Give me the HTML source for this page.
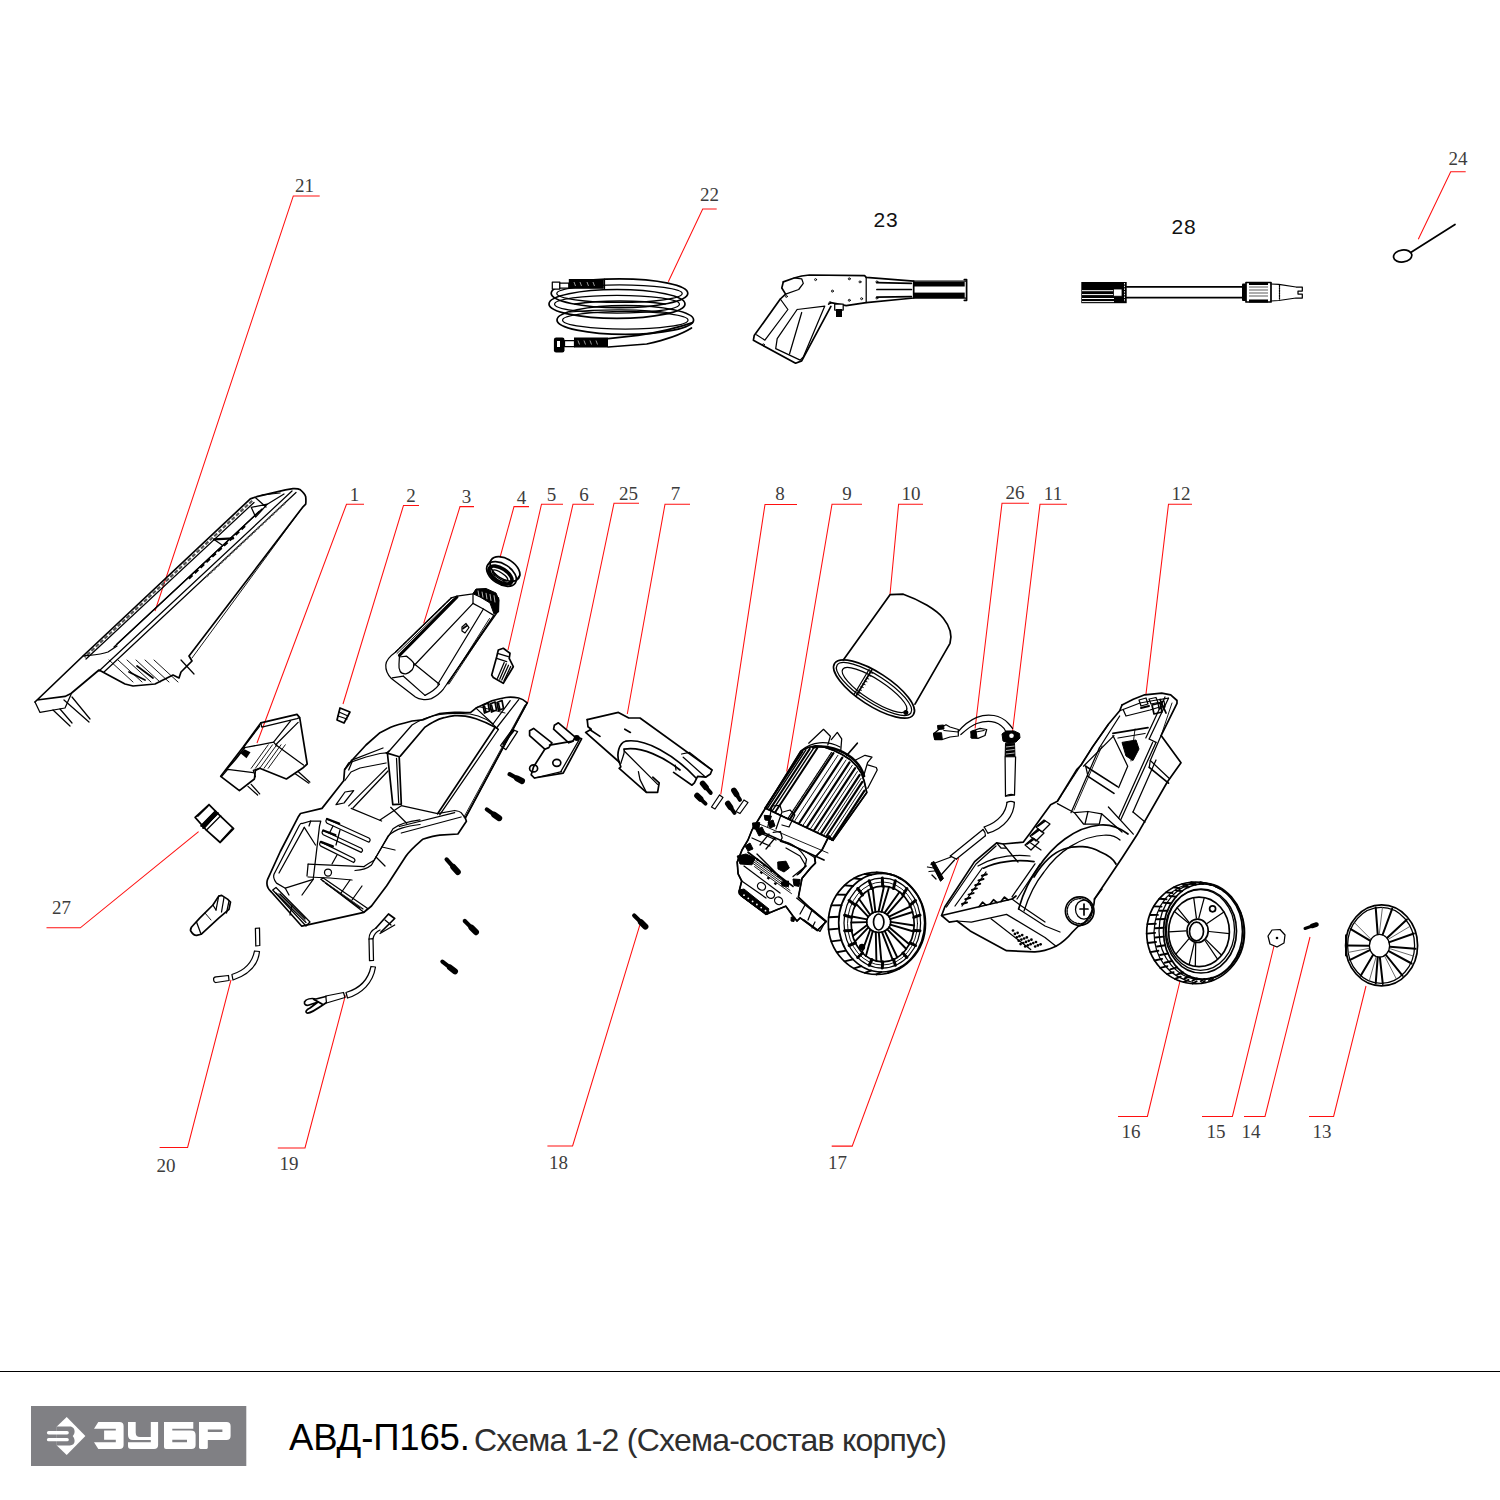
<!DOCTYPE html>
<html><head><meta charset="utf-8"><title>АВД-П165 Схема 1-2</title>
<style>
html,body{margin:0;padding:0;background:#fff;}
body{width:1500px;height:1500px;position:relative;overflow:hidden;font-family:"Liberation Sans",sans-serif;}
svg{position:absolute;left:0;top:0;}
.k{fill:none;stroke:#000;stroke-width:1.25;stroke-linejoin:round;stroke-linecap:round;}
.k2{fill:none;stroke:#000;stroke-width:1.7;stroke-linejoin:round;stroke-linecap:round;}
.t{fill:none;stroke:#000;stroke-width:0.9;stroke-linejoin:round;stroke-linecap:round;}
.w{fill:#fff;stroke:#000;stroke-width:1.25;stroke-linejoin:round;}
.f{fill:#000;stroke:none;}
.fk{fill:#000;stroke:#000;stroke-width:1;stroke-linejoin:round;}
.sc{stroke:#000;stroke-linecap:round;fill:none;}
.r{fill:none;stroke:#ff1010;stroke-width:1.05;}
.lb{font-family:"Liberation Serif",serif;font-size:19px;fill:#3c3c3c;text-anchor:middle;}
.lbs{font-family:"Liberation Sans",sans-serif;font-size:17px;fill:#1a1a1a;text-anchor:middle;}
.big{font-family:"Liberation Sans",sans-serif;font-size:21px;fill:#111;text-anchor:middle;letter-spacing:0.8px;}
#foot{position:absolute;left:0;top:1370.5px;width:1500px;height:1.4px;background:#000;}
.tt{position:absolute;white-space:nowrap;line-height:40px;top:1418px;}
#t1{left:289px;font-size:36.5px;letter-spacing:-0.15px;color:#000;}
#t2{left:474px;font-size:32px;color:#2e2e2e;letter-spacing:-0.76px;top:1420px;}
</style></head><body>
<svg width="1500" height="1500" viewBox="0 0 1500 1500">
<text class="lb" x="354.5" y="500.5">1</text>
<path class="r" d="M364 504.2 L346.5 504.2 L257 743"/>
<text class="lb" x="411" y="501.8">2</text>
<path class="r" d="M419 505.4 L403.5 505.4 L343 704"/>
<text class="lb" x="466.5" y="503.3">3</text>
<path class="r" d="M474 506.6 L460 506.6 L423.7 623.3"/>
<text class="lb" x="521.5" y="503.6">4</text>
<path class="r" d="M529 506.6 L514 506.6 L500 557.5"/>
<text class="lb" x="551.5" y="500.7">5</text>
<path class="r" d="M563 504.2 L541.5 504.2 L508 650"/>
<text class="lb" x="584" y="500.7">6</text>
<path class="r" d="M594 504.2 L573 504.2 L527.5 703.3"/>
<text class="lb" x="628.5" y="500">25</text>
<path class="r" d="M639 503.2 L614 503.2 L566.5 729.5"/>
<text class="lb" x="675.5" y="500">7</text>
<path class="r" d="M690 504.2 L665 504.2 L627.3 714"/>
<text class="lb" x="780" y="500">8</text>
<path class="r" d="M797 504.4 L765 504.4 L720.8 794.5"/>
<text class="lb" x="847" y="500">9</text>
<path class="r" d="M862 504.2 L832 504.2 L786.7 771.7"/>
<text class="lb" x="911" y="500">10</text>
<path class="r" d="M923 504.2 L898.6 504.2 L890 594.5"/>
<text class="lb" x="1015" y="499.4">26</text>
<path class="r" d="M1029 503.2 L1002 503.2 L975.1 728.5"/>
<text class="lb" x="1053" y="500">11</text>
<path class="r" d="M1067 504.2 L1040 504.2 L1012.4 732.3"/>
<text class="lb" x="1181" y="500">12</text>
<path class="r" d="M1192 504.2 L1168.5 504.2 L1145.9 694.9"/>
<text class="lb" x="304.5" y="191.8">21</text>
<path class="r" d="M319.7 195.9 L293.3 195.9 L155 611"/>
<text class="lb" x="709.5" y="200.6">22</text>
<path class="r" d="M716.7 209 L702.7 209 L668.3 281.7"/>
<text class="lb" x="1458" y="164.6">24</text>
<path class="r" d="M1465.7 171.7 L1450.7 171.7 L1418.3 239.3"/>
<text class="lb" x="61.5" y="913.5">27</text>
<path class="r" d="M46.5 927.8 L80.3 927.8 L198.6 831.6"/>
<text class="lb" x="166" y="1172">20</text>
<path class="r" d="M159.6 1147.4 L187.6 1147.4 L231 979.8"/>
<text class="lb" x="289" y="1169.5">19</text>
<path class="r" d="M277.8 1148 L305 1148 L345.4 995.4"/>
<text class="lb" x="558.6" y="1168.5">18</text>
<path class="r" d="M547.4 1145.9 L572.6 1145.9 L639.8 925.2"/>
<text class="lb" x="837.4" y="1168.8">17</text>
<path class="r" d="M831.7 1146.1 L852.2 1146.1 L958.7 858.1"/>
<text class="lb" x="1131" y="1137.6">16</text>
<path class="r" d="M1118 1116.4 L1147.4 1116.4 L1180 981"/>
<text class="lb" x="1216" y="1137.6">15</text>
<path class="r" d="M1202 1116.4 L1232.4 1116.4 L1274 946"/>
<text class="lb" x="1251" y="1137.6">14</text>
<path class="r" d="M1244 1116.4 L1265 1116.4 L1310 937"/>
<text class="lb" x="1322" y="1137.6">13</text>
<path class="r" d="M1309 1116.4 L1333.6 1116.4 L1366 986"/>
<text class="big" x="886" y="226.6">23</text>
<text class="big" x="1184" y="234.3">28</text>
<rect x="31" y="1406" width="215.3" height="60" fill="#808084"/>
<g fill="#fff">
<path class="x" d="M66.7 1417 L85.4 1436 L66.7 1455 L56.8 1445.4 L56.8 1426.6 Z" fill="#fff"/>
<path class="x" d="M56.8 1426.6 L69.8 1426.6 C73 1426.6 74.6 1429 74.6 1431.5 C74.6 1433.6 73.6 1435 72.7 1436.1 C73.6 1437.3 74.6 1438.8 74.6 1441 C74.6 1443.5 73 1445.4 69.8 1445.4 L56.8 1445.4 Z" fill="#808084"/>
<rect x="46.9" y="1430.9" width="21.9" height="3.5" rx="1.75"/>
<rect x="46.9" y="1438" width="21.9" height="3.3" rx="1.65"/>
<path class="x" d="M98.3 1422 L119.5 1422 Q123.6 1422 123.6 1426 L123.6 1444.9 Q123.6 1448.9 119.5 1448.9 L98.3 1448.9 L94 1442.3 L115.8 1442.3 L115.8 1439.8 L104.1 1439.8 L104.1 1430.6 L115.8 1430.6 L115.8 1428.7 L94 1428.7 Z" fill="#fff"/>
<path class="x" d="M128 1422 L135.7 1422 L135.7 1432.5 Q135.7 1437 140 1437 L150.8 1437 L150.8 1422 L158.1 1422 L158.1 1444.9 Q158.1 1448.9 154 1448.9 L131 1448.9 Q128 1448.9 128 1446 L128 1442.3 L150.8 1442.3 L150.8 1440 L133 1440 Q128 1440 128 1435 Z" fill="#fff"/>
<path class="x" d="M164 1422 L193.3 1422 L193.3 1428.7 L172.3 1428.7 L172.3 1430.6 L191 1430.6 Q195.6 1430.6 195.6 1435 L195.6 1444.9 Q195.6 1448.9 191.5 1448.9 L166 1448.9 Q164 1448.9 164 1447 Z M172.3 1439.8 L172.3 1442.3 L187 1442.3 L187 1439.8 Z" fill="#fff" fill-rule="evenodd"/>
<path class="x" d="M199 1422 L226.5 1422 Q230.6 1422 230.6 1426 L230.6 1436 Q230.6 1440 226.5 1440 L207.8 1440 L207.8 1447.5 Q207.8 1448.9 206.5 1448.9 L200.5 1448.9 Q199 1448.9 199 1447.5 Z M207.8 1429.6 L207.8 1432 L222.4 1432 L222.4 1429.6 Z" fill="#fff" fill-rule="evenodd"/>
</g>
<path class="k2" d="M35 702 L83 656 L250.3 498.9 L256.7 496.7 L285.5 489.8 L293 488.7 C297 488.5 299 489 300.4 489.8 C303 492 305 494 305.7 496.7 C306 500 306 502 305.7 504.2 L302.5 507.4 L189 656 L192 661 L181 672 L179 678 L173 675 L155 684 L133 686 L125 684 L99 670 L71 693.5 L65 696.4 L37 700 Z"/>
<path class="k" d="M35 702 L40 712.4 L65 708 L71 694.4"/>
<path class="k" d="M53 710 L70 726"/>
<path class="k" d="M60 709 L72 723"/>
<path class="k" d="M64 700 L89 722"/>
<path class="k" d="M72 697 L90 719"/>
<line class="k" x1="254" y1="502.5" x2="86" y2="659"/>
<line class="x" x1="252.2" y1="500.7" x2="84.5" y2="657.3" stroke="#555" stroke-width="2.2" stroke-dasharray="4 2"/>
<line class="k" x1="262" y1="509" x2="117" y2="644"/>
<line class="k" x1="259" y1="511.5" x2="114" y2="647"/>
<line class="x" x1="245" y1="526" x2="187.3" y2="580" stroke="#000" stroke-width="2.2" stroke-dasharray="5 3"/>
<line class="k" x1="292" y1="491" x2="99" y2="671"/>
<line class="k" x1="296" y1="492.5" x2="104" y2="672"/>
<line class="x" x1="285" y1="503" x2="205" y2="578" stroke="#555" stroke-width="1.8" stroke-dasharray="3 2"/>
<path class="k" d="M83 656 C92 655 100 655 108 652 L117 646"/>
<line class="sc" x1="214" y1="539.4" x2="233.2" y2="538.3" stroke-width="2.2"/>
<line class="k" x1="214" y1="539.4" x2="222" y2="545"/>
<path class="k" d="M251.3 507.4 L267.3 504.2 L255.6 517 L251.3 507.4"/>
<line class="k" x1="255.6" y1="497.8" x2="266" y2="507"/>
<line class="k" x1="262" y1="495" x2="280" y2="493"/>
<line class="k" x1="267.3" y1="504.2" x2="284" y2="494"/>
<line class="t" x1="302.5" y1="507.4" x2="192" y2="658"/>
<path class="t" d="M109 660 L133 682"/>
<path class="t" d="M118 660 L142 682"/>
<path class="t" d="M127 660 L151 682"/>
<path class="t" d="M136 660 L160 682"/>
<path class="t" d="M145 660 L169 682"/>
<path class="t" d="M154 660 L178 682"/>
<path class="k2" d="M129 672 L145 680"/>
<path class="k2" d="M137 666 L153 678"/>
<path class="k" d="M181 660 L194 674"/>
<ellipse class="k2" cx="619.5" cy="293.3" rx="68.3" ry="14.4" transform="rotate(0 619.5 293.3)"/>
<ellipse class="k" cx="619.5" cy="293.6" rx="62.7" ry="8.8" transform="rotate(0 619.5 293.6)"/>
<ellipse class="k2" cx="617" cy="303.9" rx="68" ry="14.4" transform="rotate(0 617 303.9)"/>
<ellipse class="k" cx="617" cy="304.2" rx="62.4" ry="8.8" transform="rotate(0 617 304.2)"/>
<ellipse class="k2" cx="625.3" cy="319.9" rx="68.3" ry="14.4" transform="rotate(0 625.3 319.9)"/>
<ellipse class="k" cx="625.3" cy="320.2" rx="62.7" ry="8.8" transform="rotate(0 625.3 320.2)"/>
<path class="k2" d="M575 304 C600 300 640 300 665 304"/>
<path class="k" d="M570 312 C600 309 645 309 670 313"/>
<rect x="552.3" y="282" width="7.5" height="7" class="w"/>
<rect x="559.8" y="283" width="9" height="5" class="w"/>
<rect x="568.8" y="279" width="35" height="9.8" class="f"/>
<line class="x" x1="574" y1="282" x2="575.5" y2="286" stroke="#fff" stroke-width="0.6"/>
<line class="x" x1="580" y1="282" x2="581.5" y2="286" stroke="#fff" stroke-width="0.6"/>
<line class="x" x1="587" y1="282" x2="588.5" y2="286" stroke="#fff" stroke-width="0.6"/>
<line class="x" x1="593" y1="282" x2="594.5" y2="286" stroke="#fff" stroke-width="0.6"/>
<line class="k" x1="604.5" y1="279" x2="604.5" y2="288.8"/>
<rect x="553.9" y="337.5" width="10.6" height="15" rx="2.2" class="f"/>
<rect x="557" y="341" width="3" height="6" fill="#fff"/>
<rect x="564.5" y="340.5" width="10" height="6" class="w"/>
<rect x="574" y="337.5" width="34" height="10" class="f"/>
<line class="x" x1="578" y1="340.5" x2="579.5" y2="344.5" stroke="#fff" stroke-width="0.6"/>
<line class="x" x1="584" y1="340.5" x2="585.5" y2="344.5" stroke="#fff" stroke-width="0.6"/>
<line class="x" x1="590" y1="340.5" x2="591.5" y2="344.5" stroke="#fff" stroke-width="0.6"/>
<line class="x" x1="596" y1="340.5" x2="597.5" y2="344.5" stroke="#fff" stroke-width="0.6"/>
<path class="k2" d="M608.3 338.6 L638 335.4 C660 332 680 327 692.5 322.6"/>
<path class="k2" d="M608.3 347 L646.7 344 C665 340 682 334 691.5 328"/>
<path class="k2" d="M783.3 281.9 L794.1 278 L801.7 276 L809.4 275 L864.6 275.7 L866.2 277.3 L913.7 281.1 L913.7 298 L866.2 302.6 L846.2 305.6 L830.9 302.6 L828.6 304.1"/>
<path class="k" d="M866.2 277.3 L866.2 302.6"/>
<path class="k2" d="M783.3 281.9 L781.8 288 L785.6 294.1 L780.3 299 L754.2 335.6 L753.4 340.2 L758.8 343.2 L795.6 363.2 L801.7 360.9 L830.9 306.4"/>
<path class="k" d="M785.6 294.1 L798.7 289.5 L803.3 283.4 L801.7 278.8 L794.1 278"/>
<path class="k" d="M780.3 299 L787.9 309.5 L764.9 340.2 L756.5 334.8"/>
<path class="k" d="M797.1 309.5 L824.8 306.1 L803.3 357 L800.2 360.1 L775.7 348.6 L777.2 338.6 L797.1 309.5"/>
<path class="k" d="M801.7 312.5 L789.5 354"/>
<path class="k" d="M913.7 281.1 L965.9 281.1"/>
<path class="k" d="M913.7 298 L965.9 298"/>
<rect x="913.7" y="281.9" width="51" height="4.6" class="f"/>
<rect x="913.7" y="292.6" width="51" height="5.4" class="f"/>
<path class="k2" d="M964.3 279.6 L966.6 279.6 L966.6 300.3 L964.3 300.3"/>
<path class="k2" d="M876.9 282.6 L911.4 283.4"/>
<path class="k2" d="M876.9 289.5 L911.4 289.5"/>
<path class="k2" d="M876.9 297.2 L911.4 296.7"/>
<circle cx="815.6" cy="279.6" r="1" class="t"/>
<circle cx="849.3" cy="278.8" r="1" class="t"/>
<circle cx="860.0" cy="281.9" r="1" class="t"/>
<circle cx="832.4" cy="291.1" r="1" class="t"/>
<circle cx="849.3" cy="300.3" r="1" class="t"/>
<circle cx="861.6" cy="298.7" r="1" class="t"/>
<circle cx="786.4" cy="296.4" r="1" class="t"/>
<circle cx="763.4" cy="344.8" r="1" class="t"/>
<circle cx="830.1" cy="302.6" r="1" class="t"/>
<circle cx="876.9" cy="281.9" r="1" class="t"/>
<circle cx="876.9" cy="298.0" r="1" class="t"/>
<rect x="834.7" y="304" width="8.5" height="6" class="w"/>
<rect x="836" y="309" width="6" height="8" class="f"/>
<rect x="1081.3" y="282" width="45.4" height="21.2" class="f"/>
<line class="x" x1="1082" y1="290.7" x2="1114" y2="290.7" stroke="#fff" stroke-width="1"/>
<line class="x" x1="1082" y1="294.6" x2="1114" y2="294.6" stroke="#fff" stroke-width="1"/>
<line class="x" x1="1082" y1="298.5" x2="1114" y2="298.5" stroke="#fff" stroke-width="1"/>
<line class="x" x1="1082" y1="301.6" x2="1114" y2="301.6" stroke="#fff" stroke-width="1"/>
<rect x="1113.4" y="289" width="8.6" height="7.2" fill="#fff" stroke="#000" stroke-width="0.8"/>
<line class="x" x1="1124.5" y1="283" x2="1124.5" y2="302" stroke="#fff" stroke-width="0.9" stroke-dasharray="1.5 1.2"/>
<line class="k2" x1="1126.7" y1="286.8" x2="1242" y2="286.8"/>
<line class="k2" x1="1126.7" y1="297.7" x2="1242" y2="297.7"/>
<rect x="1242" y="283.6" width="4" height="17.3" rx="1" class="f"/>
<path class="k2" d="M1246 282.5 L1271 282.5 L1271 302 L1246 302 Z" fill="#fff"/>
<rect x="1249" y="282" width="19" height="3" class="f"/>
<rect x="1249" y="299.5" width="19" height="3" class="f"/>
<line class="x" x1="1249" y1="287" x2="1268" y2="287" stroke="#777" stroke-width="1.2"/>
<line class="x" x1="1249" y1="290" x2="1268" y2="290" stroke="#777" stroke-width="1.2"/>
<line class="x" x1="1249" y1="293" x2="1268" y2="293" stroke="#777" stroke-width="1.2"/>
<line class="x" x1="1249" y1="296" x2="1268" y2="296" stroke="#777" stroke-width="1.2"/>
<path class="k" d="M1271 284 L1278.8 284.4 L1296 287 L1302.3 287 L1302.3 291 L1298 291 L1298 294 L1302.3 294 L1302.3 298 L1296 298 L1278.8 300.5 L1271 301"/>
<line class="k" x1="1279.5" y1="285" x2="1279.5" y2="300" stroke-dasharray="1.5 1"/>
<ellipse class="k2" cx="1402.7" cy="256" rx="9.2" ry="6" transform="rotate(-8 1402.7 256)"/>
<path class="k2" d="M1411.5 252 L1455 224.5"/>
<path class="k2" d="M260.8 722.9 L297 714.4 L299.7 717.6 L307.2 764 L302.4 768.3 L286.4 779 L259.7 768.3 L255.4 770.4 L254.4 779 L239.4 790.7 L220.7 776.3 L243.2 747 L260.8 722.9"/>
<path class="k" d="M260.8 722.9 L261.8 727.2 L297 718.7 L299.7 717.6"/>
<path class="k" d="M259.7 726.1 L243.7 747"/>
<path class="k" d="M298.1 722.4 L275.7 744.8 L303.5 765.1"/>
<path class="k" d="M290.6 720.8 L273.6 742.2 L259.7 744.8 L242.6 748"/>
<path class="k" d="M273.6 742.2 L276.8 745.9"/>
<path class="t" d="M251.2 768.3 L268.2 744.8"/>
<path class="t" d="M255.4 768.3 L272.5 744.8"/>
<path class="t" d="M259.7 768.3 L276.8 744.8"/>
<path class="t" d="M264 768.3 L281 744.8"/>
<path class="t" d="M268.2 768.3 L285.3 744.8"/>
<path class="k2" d="M244.8 747.5 L235.2 759.8 L225.6 770.4"/>
<path class="k" d="M221.8 776.3 L227.7 769.4 L253.3 772.6"/>
<path class="k" d="M251.2 784.3 L259.7 793.9"/>
<path class="k" d="M248 786.4 L257.6 795"/>
<path class="k" d="M298.1 771.5 L309.9 782.2"/>
<path class="k" d="M294.9 773.6 L308.8 783.2"/>
<path class="k" d="M259.7 768.3 L253.3 770.4 L255.4 776.8"/>
<path class="f" d="M240.49034254615302 753.3560986020702 l4 -4 l6 3 l-4 6z"/>
<path class="k2" d="M340 708 L350 712 L344 723 L337 720 L340 708"/>
<path class="k" d="M339 712 L348 716"/>
<path class="k" d="M338 716 L347 719"/>
<path class="k" d="M395.4 652.2 L451.4 597.8 L457 596.2 L473 593.8 L476 590 L490 592 L498.6 598 L498 611.4 L443.4 689 C441 692.2 438 695 431.4 698.6 C428 699.6 425 699.8 422.6 699.4 C419 699 417 698 415.4 697 L391.4 678.6 C387 674 385.5 670 385.8 665 C386 660 390 656 395.4 652.2 Z"/>
<line class="sc" x1="399.4" y1="655.4" x2="457" y2="597" stroke-width="3"/>
<line class="k" x1="395.4" y1="652.2" x2="451.4" y2="597.8" stroke-dasharray="4 1.5"/>
<line class="t" x1="397" y1="653.5" x2="453" y2="599.2"/>
<path class="fk" d="M473 593.8 L476 589 L486 588.5 L496 593 L499 600 L498.6 612 L494 614 L490 603 L480 597Z"/>
<line class="x" x1="478" y1="590.5" x2="479" y2="596" stroke="#fff" stroke-width="0.7"/>
<line class="x" x1="482" y1="591.7" x2="483" y2="597.6" stroke="#fff" stroke-width="0.7"/>
<line class="x" x1="486" y1="592.9" x2="487" y2="599.2" stroke="#fff" stroke-width="0.7"/>
<line class="x" x1="490" y1="594.1" x2="491" y2="600.8" stroke="#fff" stroke-width="0.7"/>
<line class="x" x1="494" y1="595.3" x2="495" y2="602.4" stroke="#fff" stroke-width="0.7"/>
<line class="k" x1="473" y1="603.4" x2="414.6" y2="665"/>
<line class="k" x1="473" y1="594" x2="473" y2="603.4"/>
<path class="k" d="M473 603.4 L483.4 609 L493.8 615.4"/>
<line class="k" x1="483.4" y1="609" x2="437.8" y2="684.2"/>
<line class="k" x1="493.8" y1="615.4" x2="447.4" y2="683.4"/>
<line class="t" x1="497" y1="611.4" x2="449" y2="684"/>
<line class="t" x1="489.5" y1="618.5" x2="448" y2="684"/>
<path class="k" d="M399.4 657 L406.6 656.2 C410 659 413 661 413.8 663.4 C414 666 413.5 668 412.2 669.8 C410 672 408 673.5 405.8 673.8 C403 674 401 673 400.2 671.4 C399 669 398.8 666 399 664.2 Z"/>
<line class="k" x1="392.2" y1="677.8" x2="403.4" y2="676.2"/>
<line class="k" x1="403.4" y1="676.2" x2="425" y2="695.4"/>
<line class="k" x1="413.8" y1="663.4" x2="439.4" y2="684.2"/>
<path class="k" d="M425 695.4 C430 693 436 689 439.4 684.2"/>
<path class="k" d="M462 627 L466 623.5 L469 627.5 L465 633 L462 631Z"/>
<path class="k2" d="M463 628.5 L466.5 626"/>
<ellipse class="k2" cx="505" cy="569" rx="16.5" ry="10" transform="rotate(33 505 569)"/>
<ellipse class="k2" cx="501.5" cy="574" rx="16.5" ry="10" transform="rotate(33 501.5 574)"/>
<ellipse class="x" cx="500.5" cy="575" rx="13" ry="6.5" transform="rotate(33 500.5 575)" fill="none" stroke="#000" stroke-width="3.6"/>
<ellipse class="k" cx="500" cy="575.5" rx="9" ry="3" transform="rotate(33 500 575.5)"/>
<line class="k" x1="513.3" y1="581.2" x2="509.8" y2="586.2"/>
<line class="k" x1="504.9" y1="580.1" x2="501.4" y2="585.1"/>
<line class="k" x1="495.4" y1="574" x2="491.9" y2="579"/>
<line class="k" x1="490.7" y1="566.8" x2="487.2" y2="571.8"/>
<line class="k" x1="490.9" y1="560.4" x2="487.4" y2="565.4"/>
<line class="k" x1="519.8" y1="575.1" x2="516.3" y2="580.1"/>
<path class="k2" d="M498.3 650 L503.3 648.3 L510 653.3 L509.2 658.3 L513.3 666.7 L503.3 683.3 L493.3 677.5 L491.7 675 L496.7 656.7 L498.3 650"/>
<path class="k" d="M497.5 653.3 L508.3 656.7"/>
<path class="k" d="M496.7 658.3 L506.7 661.7"/>
<path class="k" d="M504.2 662.5 L497.5 678.3"/>
<path class="k" d="M506.3 663.8 L499.7 679.2"/>
<path class="k" d="M508.5 665.2 L501.8 680"/>
<path class="k" d="M510.7 666.5 L504 680.8"/>
<path class="k2" d="M527.2 702.8 C524 700 521 698.5 518.7 698 C513 697 508 697.2 505.9 697.5 C500 698.5 496 699.5 492 700.7 L476 708.1 L470.7 712.4 C466 712.7 460 712.4 454.7 712.4 C448 712.6 444 713 439.7 713.5 C433 715.5 428 718 422.7 719.9 L412 721 C404 723 396 725 390.7 727.3 L380 732.7 L366 745 L352 760.3 L344.6 769.6 L343.7 780.8 L322 808.4 L300.5 813.5 L298 817.3 L280.3 851.5 L267.6 879.3 C266 884 268 889 271.4 892 L301.8 926.2 L313.2 923.7 L363.9 912.3 L371.5 906 L386.7 885.7 L405.7 856.5 C410 850 415 846 422.7 839.3 C430 837 436 835.5 439.7 835.1 L457.9 834 L466.4 821.2 L465.3 818 Z"/>
<line class="k" x1="527.2" y1="702.8" x2="465.3" y2="818" stroke-dasharray="1.3 0.8"/>
<line class="t" x1="525" y1="705" x2="464" y2="817"/>
<line class="k" x1="518.7" y1="699.6" x2="496.5" y2="728"/>
<line class="k" x1="510.2" y1="700.7" x2="493" y2="724"/>
<path class="k2" d="M400.3 756.1 L424.8 727.3 C428 725 430 723.5 433.3 722 C437 720 440 718.5 444 717.7 C448 716.5 451 715.8 454.7 715.6 C458 715.5 462 715.6 465.3 716.1 C469 716.8 472 717.6 476 718.8 C484 721.5 490 724.5 495.2 727.3 L437.6 813.7"/>
<path class="k" d="M387.5 753 L412 725 C420 720 430 716 440 714.5 C450 713 460 713 470 714 C480 715.5 490 720 498.4 729.5 L439.7 814.8"/>
<line class="k" x1="495.2" y1="727.3" x2="498.4" y2="729.5"/>
<path class="k2" d="M483 705 L488 703 L489.5 711 L484.5 713Z"/>
<line class="sc" x1="484.5" y1="706" x2="486" y2="712" stroke-width="1.6"/>
<path class="k2" d="M490 704 L495 702 L496.5 710 L491.5 712Z"/>
<line class="sc" x1="491.5" y1="705" x2="493" y2="711" stroke-width="1.6"/>
<path class="k2" d="M497 702.5 L502 700.5 L503.5 708.5 L498.5 710.5Z"/>
<line class="sc" x1="498.5" y1="703.5" x2="500" y2="709.5" stroke-width="1.6"/>
<line class="k" x1="476" y1="708.1" x2="493" y2="724"/>
<line class="t" x1="478" y1="706.5" x2="505" y2="713"/>
<path class="k" d="M500.5 745.5 L512.3 729.5 L517.6 731.6 L505.9 749.7Z"/>
<line class="k2" x1="503" y1="744" x2="514" y2="730.5"/>
<path class="k2" d="M386.4 752.9 L399.2 756.7 L401.3 804.1 L392.8 804.7 L387.5 754Z"/>
<line class="k" x1="396.5" y1="758.3" x2="398.7" y2="803"/>
<line class="k" x1="386.4" y1="752.9" x2="389" y2="751"/>
<path class="k" d="M344.9 769.1 L348.7 762.8 L366 757 L380 753.5 L386.4 752.9"/>
<path class="k" d="M344.9 780.5 L351 772 L360 768 L386 763"/>
<line class="k" x1="351.2" y1="760.3" x2="383" y2="748"/>
<line class="k" x1="352" y1="762" x2="348.7" y2="770"/>
<line class="k" x1="348.7" y1="805.9" x2="386.7" y2="767.9"/>
<line class="k" x1="353" y1="808" x2="388" y2="771"/>
<path class="k" d="M336 804.6 L345 792 L353.7 790.7 L344 803Z"/>
<line class="k" x1="351.2" y1="808.4" x2="381.6" y2="821"/>
<path class="k" d="M380 820.1 L401.3 805.7 L437.6 813.7"/>
<path class="k" d="M390.7 807.3 L406.7 823.3"/>
<line class="k" x1="399.2" y1="826.5" x2="454.7" y2="812.7"/>
<line class="k" x1="401.3" y1="833" x2="461.1" y2="817"/>
<path class="k" d="M437.6 813.7 L454.7 810.5 C458 811 460 811.5 461.1 812.7 L465.3 818"/>
<path class="k" d="M274 874.3 L299 826 C300.5 823.5 301 823 301.8 823.6 L310.7 821 L320.8 821 L319.5 826.1 L313.2 879.3 L285.3 888.2 L276.5 883.1 C274 880 273 877 274 874.3 Z"/>
<path class="k" d="M279 873 L304.3 827.4"/>
<line class="k" x1="310.7" y1="821" x2="309" y2="826"/>
<line class="k" x1="304.3" y1="827.4" x2="315.5" y2="845"/>
<line class="k" x1="313.2" y1="879.3" x2="302" y2="895"/>
<line class="k" x1="285.3" y1="888.2" x2="289" y2="895"/>
<path class="k" d="M327.1 819.0 L368.9 838.0 Q371.4 840.0 368.9 842.2 L327.1 823.2 Q324.6 821.0 327.1 819.0 Z"/>
<line class="sc" x1="327.1" y1="819" x2="339.1" y2="823.5" stroke-width="2.4"/>
<path class="k" d="M323.3 830.5 L361.3 848.2 Q363.8 850.2 361.3 852.4 L323.3 834.7 Q320.8 832.5 323.3 830.5 Z"/>
<line class="sc" x1="323.3" y1="830.5" x2="335.3" y2="835" stroke-width="2.4"/>
<path class="k" d="M320.8 841.9 L353.7 858.3 Q356.2 860.3 353.7 862.5 L320.8 846.1 Q318.3 843.9 320.8 841.9 Z"/>
<line class="sc" x1="320.8" y1="841.9" x2="332.8" y2="846.4" stroke-width="2.4"/>
<line class="k" x1="333" y1="826" x2="330" y2="832"/>
<line class="k" x1="340" y1="830" x2="336" y2="845"/>
<line class="k" x1="337" y1="855" x2="332" y2="864"/>
<path class="k" d="M308.1 864.1 L336 865.4 L363.9 866.7"/>
<path class="k" d="M308.1 877 L330 878 L352 880"/>
<line class="k" x1="308.1" y1="864.1" x2="307" y2="876"/>
<ellipse class="k" cx="328" cy="872.5" rx="3.5" ry="3.5" transform="rotate(0 328 872.5)"/>
<path class="k" d="M363.9 866.7 C368 864 371 862 374 860.3 L393 828.7 C400 823 410 821 420 819.8"/>
<path class="k" d="M355 870.5 C363 870 368 868 371.5 865 L388 836 C396 828 408 826 420 824.5"/>
<line class="k" x1="376" y1="857" x2="385" y2="866"/>
<line class="k" x1="382" y1="847" x2="395" y2="850"/>
<path class="k" d="M272.7 890 L276 887.5 L310 922 L306 926Z"/>
<line class="k" x1="276" y1="893" x2="306" y2="922.5"/>
<line class="x" x1="278" y1="893.5" x2="305.5" y2="920.5" stroke="#666" stroke-width="1.2"/>
<line class="k" x1="280" y1="894" x2="305" y2="918.5"/>
<path class="k" d="M320.8 879.3 L323.3 878 L367.7 908.5 L363.9 912.3Z"/>
<line class="k" x1="323" y1="881" x2="363" y2="909"/>
<line class="x" x1="324.2" y1="882" x2="361.5" y2="908.5" stroke="#666" stroke-width="1.2"/>
<line class="k" x1="325.4" y1="883" x2="360" y2="908"/>
<line class="k" x1="341" y1="893" x2="350" y2="880"/>
<line class="k" x1="352" y1="900" x2="362" y2="886"/>
<line class="k" x1="292" y1="905" x2="290" y2="915"/>
<path class="k2" d="M529.6 730.8 L533.6 728.4 L552 742.8 L548.8 747.6 L544.8 749.2 L529.6 735.6 L529.6 730.8"/>
<path class="k2" d="M554.4 725.2 L558.4 722.8 L575.2 737.2 L572.8 741.2 L568.8 742.8 L553.6 729.2 L554.4 725.2"/>
<path class="k2" d="M572.8 741.2 L549.6 745.2"/>
<path class="k2" d="M575.2 736.4 L581.6 738.8 L563.2 773.2 L534.4 778 L531.2 774.8 L533.6 766.8 L544.8 749.2"/>
<path class="k" d="M579.2 739.6 L560.8 771.6"/>
<path class="k" d="M534.4 778 L561.6 771.6"/>
<ellipse class="k2" cx="556.8" cy="762.8" rx="4" ry="3.5" transform="rotate(0 556.8 762.8)"/>
<ellipse class="k2" cx="533.6" cy="768.4" rx="4" ry="3.5" transform="rotate(0 533.6 768.4)"/>
<ellipse class="f" cx="576.8" cy="738" rx="3" ry="3" transform="rotate(0 576.8 738)"/>
<path class="k2" d="M587.2 719.6 L618.4 712.4 L628.8 718 L640 718 L712 770 L710.4 774 L705.6 777.2 L697.6 776.4 L694.4 782.8 L692 785.2 L673.6 772.4"/>
<path class="k2" d="M587.2 719.6 L588 726.8 L591.2 729.2 L585.6 732.4 L619.2 762"/>
<path class="k2" d="M619.2 762 C616 754 619.2 742.8 625.6 741.2 C644.8 738 673.6 754 696 778"/>
<path class="k2" d="M624 749.2 C641.6 746 664 757.2 680 770"/>
<path class="k" d="M620.8 763.6 C622.4 757.2 625.6 751.6 624 749.2"/>
<path class="k2" d="M619.2 762 L620.8 766.8 L619.2 768.4 L646.4 792.4 L657.6 792.4 L659.2 782.8 L652.8 777.2"/>
<path class="k" d="M624 750.8 L657.6 784.4"/>
<path class="k" d="M638.4 771.6 L640 779.6 L646.4 792.4"/>
<path class="k" d="M681.6 754 L689.6 752.4 L712 770"/>
<path class="k" d="M683.2 757.2 L705.6 777.2"/>
<path class="k2" d="M590.4 730 L600 736.4"/>
<path class="k2" d="M624.8 729.2 L630.4 732.4"/>
<path class="k" d="M675.2 765.2 L676 770"/>
<line class="sc" x1="702.7" y1="783.5" x2="710.7" y2="792.9" stroke-width="4.0"/>
<line class="sc" x1="702.7" y1="783.5" x2="705.9" y2="787.3" stroke-width="5.8"/>
<line class="sc" x1="697.1" y1="795.7" x2="705.5" y2="803.6" stroke-width="4.0"/>
<line class="sc" x1="697.1" y1="795.7" x2="700.5" y2="798.9" stroke-width="5.8"/>
<line class="sc" x1="734" y1="790.5" x2="740" y2="799.9" stroke-width="4.0"/>
<line class="sc" x1="734" y1="790.5" x2="736.4" y2="794.3" stroke-width="5.8"/>
<line class="sc" x1="727.9" y1="803.6" x2="734.5" y2="812.9" stroke-width="4.0"/>
<line class="sc" x1="727.9" y1="803.6" x2="730.5" y2="807.3" stroke-width="5.8"/>
<path class="k" d="M719.5 795 L723 797.5 L715 809 L711.5 807 L719.5 795"/>
<path class="k" d="M744 800 L748 802.5 L740 813.5 L736 811.5 L744 800"/>
<path class="w" d="M800.9 751 L808 747.5 L815.7 745.8 L824 747 L833 750.1 L842 754.5 L850.3 759.7 L856.5 766 L861.6 773.5 L864.2 781.3 L866.8 792.6 L833 840.3 L765.4 808.2Z"/>
<path class="k2" d="M800.9 751 L808 747.5 L815.7 745.8 L824 747 L833 750.1 L842 754.5 L850.3 759.7 L856.5 766 L861.6 773.5 L864.2 781.3 L866.8 792.6 L833 840.3 L765.4 808.2Z"/>
<line class="sc" x1="802.4" y1="751.7" x2="765.2" y2="808.1" stroke-width="2.0"/>
<line class="sc" x1="805.9" y1="749.9" x2="767" y2="809" stroke-width="1.4"/>
<line class="sc" x1="809.7" y1="748.9" x2="769.4" y2="810.1" stroke-width="2.0"/>
<line class="sc" x1="813.6" y1="748.1" x2="771.9" y2="811.3" stroke-width="1.4"/>
<line class="sc" x1="817.2" y1="748.3" x2="774.8" y2="812.7" stroke-width="2.0"/>
<line class="sc" x1="833.4" y1="753.1" x2="789.6" y2="819.7" stroke-width="2.2"/>
<line class="sc" x1="837.9" y1="755.3" x2="794.1" y2="821.8" stroke-width="0.9"/>
<line class="sc" x1="842.3" y1="757.6" x2="798.6" y2="824" stroke-width="2.2"/>
<line class="sc" x1="846" y1="760" x2="802.6" y2="825.9" stroke-width="0.9"/>
<line class="sc" x1="849.5" y1="762.4" x2="806.5" y2="827.7" stroke-width="2.2"/>
<line class="sc" x1="852.3" y1="765.3" x2="810.1" y2="829.4" stroke-width="0.9"/>
<line class="sc" x1="855.1" y1="768.1" x2="813.6" y2="831.1" stroke-width="2.2"/>
<line class="sc" x1="857.4" y1="771.5" x2="817.1" y2="832.7" stroke-width="0.9"/>
<line class="sc" x1="859.7" y1="774.8" x2="820.5" y2="834.4" stroke-width="2.2"/>
<line class="sc" x1="861.1" y1="778.3" x2="823.3" y2="835.7" stroke-width="0.9"/>
<line class="sc" x1="862.3" y1="781.8" x2="826" y2="837" stroke-width="2.2"/>
<line class="sc" x1="863.5" y1="786.2" x2="829.1" y2="838.4" stroke-width="0.9"/>
<line class="sc" x1="864.5" y1="790.7" x2="832.1" y2="839.9" stroke-width="2.2"/>
<line class="k" x1="831.4" y1="752.6" x2="787.7" y2="818.8" stroke-dasharray="1.5 1"/>
<path class="sc" d="M813 747.5 C826 744 842 750 852 758 C858 763 862 769 864 776" stroke-width="2.6" fill="none"/>
<path class="k" d="M802 750 C812 742 826 740 840 747"/>
<path class="k" d="M808.7 743.2 L823.5 729.3 L830.4 736.3 L827.8 745"/>
<path class="k" d="M831.3 739.7 L837.3 732.4 L841.7 738.9 L840.8 750.1"/>
<line class="k2" x1="846.9" y1="755.3" x2="857.3" y2="743.2"/>
<path class="k" d="M854.7 760.5 L865 755.3 L872 757.1 L867.7 762.3 L863.3 777"/>
<path class="k" d="M867.7 764.9 L876.3 767.5 L877.2 770 L867.7 788.3"/>
<path class="w" d="M765.4 808.2 L757 822 L752 830 L748 840 L742 850 L737.2 862.1 L738.1 873.8 L741.7 881 L739 891.8 L740.8 895.4 L766 914.3 L776.8 909.8 L785.8 906.2 L793 916.1 L797 921 L800.2 917.9 L817.3 930.5 L826.3 921.5 L810.1 908 L798.4 897.2 L802 878.3 L811 867.5 L815.5 863 L814.6 857.6 L822 850 L829 836 L833 840.3Z"/>
<path class="k2" d="M765.4 808.2 L757 822 L752 830 L748 840 L742 850 L737.2 862.1 L738.1 873.8 L741.7 881 L739 891.8 L740.8 895.4 L766 914.3 L776.8 909.8 L785.8 906.2 L793 916.1 L797 921 L800.2 917.9 L817.3 930.5 L826.3 921.5 L810.1 908 L798.4 897.2 L802 878.3 L811 867.5 L815.5 863 L814.6 857.6 L822 850 L829 836 L833 840.3Z"/>
<path class="k" d="M767.8 827 L772 806 L780 805.4 L782 812 L776 829"/>
<path class="k" d="M783 812 L790 810 L794.8 815 L789 827 L782 825"/>
<path class="k" d="M773.2 832.4 L780.4 831.5 L782.2 837.8 L780.4 841.4 L789.4 844.1 L806.5 852.2 L814.6 857.6 L815.5 863 L811 867.5 L802 878.3"/>
<path class="k" d="M786 848 L800 856 L806 866 L798 874"/>
<line class="k2" x1="753.3" y1="828" x2="824" y2="860"/>
<line class="t" x1="757" y1="823" x2="828" y2="853"/>
<path class="k2" d="M748 852.2 L793 886.4"/>
<path class="k" d="M757 854 L788.5 885.5"/>
<path class="k" d="M759.7 861.2 L786 882"/>
<path class="k" d="M744 866 L780 893"/>
<path class="k" d="M741.7 881 L766 898"/>
<path class="fk" d="M737.2 856 L746 854 L755.2 858 L752 864.8 L740 864Z"/>
<path class="fk" d="M777.7 862 L786 861.2 L789.4 868 L784 872 L778 869Z"/>
<path class="fk" d="M781.3 882 L788.5 881 L788.5 886.4 L782 886Z"/>
<path class="fk" d="M793 879 L800.2 879.5 L799 886.4 L794 885.5Z"/>
<path class="fk" d="M752.5 823 L759.7 822.5 L759 828.8 L753 828Z"/>
<path class="fk" d="M764.2 815.3 L771.4 816 L770 820.7 L765 820Z"/>
<path class="fk" d="M739 890 L744 889 L769 909 L766 914.3 L741 896Z"/>
<path class="fk" d="M791.2 917 L794.8 917.5 L794 921.5 L791 921Z"/>
<ellipse class="k" cx="761.5" cy="886.4" rx="4.2" ry="3.6" transform="rotate(35 761.5 886.4)"/>
<ellipse class="k" cx="770.5" cy="894.5" rx="4.2" ry="3.6" transform="rotate(35 770.5 894.5)"/>
<ellipse class="k" cx="778.6" cy="900.8" rx="4.2" ry="3.6" transform="rotate(35 778.6 900.8)"/>
<line class="t" x1="750" y1="857" x2="787" y2="884"/>
<line class="t" x1="751.5" y1="860.2" x2="788.5" y2="887.2"/>
<line class="t" x1="753" y1="863.4" x2="790" y2="890.4"/>
<line class="t" x1="754.5" y1="866.6" x2="791.5" y2="893.6"/>
<rect class="f" x="757.0" y="858.0" width="2.6" height="2.2" transform="rotate(37 757.0 858.0)"/>
<rect class="f" x="764.0" y="863.5" width="2.6" height="2.2" transform="rotate(37 764.0 863.5)"/>
<rect class="f" x="771.0" y="869.0" width="2.6" height="2.2" transform="rotate(37 771.0 869.0)"/>
<rect class="f" x="778.0" y="874.5" width="2.6" height="2.2" transform="rotate(37 778.0 874.5)"/>
<rect class="f" x="761.0" y="871.0" width="2.6" height="2.2" transform="rotate(37 761.0 871.0)"/>
<rect class="f" x="768.0" y="876.5" width="2.6" height="2.2" transform="rotate(37 768.0 876.5)"/>
<rect class="f" x="775.0" y="882.0" width="2.6" height="2.2" transform="rotate(37 775.0 882.0)"/>
<line class="sc" x1="741" y1="893" x2="767" y2="912" stroke-width="5"/>
<circle cx="744.0" cy="895.2" r="0.9" fill="#fff"/>
<circle cx="748.3" cy="898.3" r="0.9" fill="#fff"/>
<circle cx="752.6" cy="901.4" r="0.9" fill="#fff"/>
<circle cx="756.9" cy="904.5" r="0.9" fill="#fff"/>
<circle cx="761.2" cy="907.6" r="0.9" fill="#fff"/>
<circle cx="765.5" cy="910.7" r="0.9" fill="#fff"/>
<path class="fk" d="M756 830 L762 827 L765 833 L759 836Z"/>
<path class="fk" d="M768 822 L773 820 L775 826 L770 828Z"/>
<path class="fk" d="M745 846 L750 843 L753 849 L748 851Z"/>
<line class="k" x1="752" y1="838" x2="770" y2="846"/>
<line class="k" x1="758" y1="832" x2="776" y2="840"/>
<path class="k" d="M780.4 840.5 C790 842 800 848 806.5 859.4 C806 866 802 872 797 875"/>
<line class="k" x1="793" y1="876.5" x2="806" y2="866"/>
<line class="k" x1="760" y1="845" x2="769" y2="834"/>
<line class="k" x1="766" y1="849" x2="775" y2="838"/>
<path class="k" d="M796.6 898.1 L825.4 921.5 L820 931.4 L803.8 919.7"/>
<path class="k" d="M805 905 L800 914"/>
<path class="k" d="M812 910 L808 920"/>
<path class="k" d="M815 922 L812 928"/>
<path class="k2" d="M843.3 660 L890 594.7 L903.3 594.2 C920 600 936.7 610 943.3 618.3 C950 626.7 952.5 635 950 643.3 L915 704.2"/>
<ellipse class="k2" cx="874" cy="689" rx="47" ry="16.5" transform="rotate(33 874 689)"/>
<ellipse class="k" cx="874" cy="689" rx="44" ry="13.5" transform="rotate(33 874 689)"/>
<ellipse class="k" cx="874.5" cy="690" rx="38" ry="10.5" transform="rotate(33 874.5 690)"/>
<path class="k2" d="M871.7 670 L856.7 695"/>
<path class="k" d="M869.2 669.2 L854.2 694.2"/>
<path class="t" d="M870 672.5 L872.5 673.3"/>
<path class="t" d="M868.2 675.3 L870.7 676.2"/>
<path class="t" d="M866.3 678.2 L868.8 679"/>
<path class="t" d="M864.5 681 L867 681.8"/>
<path class="t" d="M862.7 683.8 L865.2 684.7"/>
<path class="t" d="M860.8 686.7 L863.3 687.5"/>
<path class="t" d="M859 689.5 L861.5 690.3"/>
<path class="t" d="M857.2 692.3 L859.7 693.2"/>
<circle class="f" cx="905.8333333333334" cy="712.5" r="2.5"/>
<path class="k" d="M942 727 L946 724.7 L950 727 L958.3 729.5 L958.3 736 L950 737 L942.3 739.5 L935 739.5 L933.6 734 L937 731Z"/>
<path class="fk" d="M933.6 733 L941.5 732.7 L942.3 739.5 L934.5 739.5Z"/>
<path class="fk" d="M937.5 725.5 L943.5 725 L944 729 L938 729.5Z"/>
<path class="k" d="M944 730.5 L958 732"/>
<path class="k" d="M958.3 731.5 C962 727 968 721 976.8 717.3 C984 714.5 990 714.8 994 715.5 C1000 716.5 1005 719.8 1008 723 C1010 725 1011.5 727 1012.5 728.4"/>
<path class="k" d="M960.8 734.6 C966 730 971 725.5 976.8 723.5 C983 721.3 988 721.2 991.6 721.6 C997 722.3 1001 725 1004 728.4 C1005 730 1006 731.5 1006.4 733.4"/>
<path class="k" d="M972 731 L980 728.4 L986.7 729.5 L985 735.5 L978 738.3 L971 737.5Z"/>
<path class="fk" d="M970.6 731.5 L976 730.5 L977 738 L971.5 738.3Z"/>
<path class="k" d="M976 732 L984 730.5"/>
<path class="fk" d="M1002 734 L1006 731 L1014 730.9 L1019.5 733.5 L1020 738 L1016 742 L1009 743.2 L1003 741Z"/>
<circle cx="1011.5" cy="735.8" r="2.3" fill="#fff"/>
<path class="fk" d="M1005.5 743.2 L1014.5 743.2 L1015 756.8 L1005.1 756.8Z"/>
<line class="x" x1="1006" y1="747" x2="1014.5" y2="746" stroke="#fff" stroke-width="0.7"/>
<line class="x" x1="1006" y1="750.5" x2="1014.5" y2="749.5" stroke="#fff" stroke-width="0.7"/>
<line class="x" x1="1006" y1="754" x2="1014.5" y2="753" stroke="#fff" stroke-width="0.7"/>
<path class="k" d="M1005.1 756.8 L1005.5 796.2 L1014.5 795 L1015.6 756.8"/>
<path class="k" d="M1005.5 796 Q1010 793.5 1014.5 795"/>
<path class="k" d="M1007 802.4 C1006 812 999 822 984.2 827"/>
<path class="k" d="M1014.4 802.4 C1014 815 1005 828 987.9 833.2"/>
<path class="k" d="M1007 802.4 Q1011 800.5 1014.4 802.4"/>
<path class="k" d="M984.2 827 Q986 830 987.9 833.2"/>
<path class="k" d="M983 829.5 L950.3 856"/>
<path class="k" d="M985.4 835.7 L956.4 859.1"/>
<path class="k" d="M983 829.5 Q985.5 832 985.4 835.7"/>
<path class="k" d="M950.3 856 L956.4 859.1"/>
<path class="k" d="M951 857 L931 864.5"/>
<path class="k" d="M954.5 860 L941 875"/>
<path class="fk" d="M931 863 L934 861.5 L943.5 878.5 L940.5 881.3Z"/>
<path class="k" d="M927.5 867 L933.5 868"/>
<path class="k" d="M932 875 L936 879"/>
<path class="k" d="M929 871.5 L934.5 871"/>
<path class="k2" d="M1122 705 L1133.3 699.3 L1144.7 694.8 L1161.7 693.1 L1170.7 694.8 L1177 700.5 L1177 703.3 L1161.1 735.6 L1181 762.8 L1167.3 782 L1136.7 835.3 L1122 858 L1094.5 899"/>
<path class="k2" d="M1094.5 899 C1094 912 1086 924 1078 926.5 L1072.5 932 C1066 940 1060 944 1056 946.3 C1048 950 1040 952 1034 951.8 L1006.5 950.7 L970.2 930.9 L957 921 L949.3 922.1 L941.6 915.5 L944.9 906.7 L974.6 861.6 L996.6 842.9 L1003.2 844 L1023.4 842.1 L1030.2 833 L1041.5 817.2 L1050.6 804.7 L1057.4 801.3 L1076.7 769.6 L1081.2 765 L1092.5 747 L1108.4 724.3 L1119.7 710.7 L1122 705"/>
<path class="k" d="M1119.7 710.7 L1123.1 709.5 L1140 703 L1153.7 700.5 L1168.5 698.2"/>
<path class="k" d="M1123.1 709.5 L1126 716 L1150 710 L1163 706"/>
<path class="k" d="M1139 700 L1146 698 L1148 704 L1141 706Z"/>
<path class="k" d="M1149 699 L1156 697.5 L1158 702.5 L1151 704Z"/>
<path class="k" d="M1158 703 L1164 701 L1165 707 L1159 709Z"/>
<path class="k2" d="M1152 705 L1160 703 L1162 712 L1154 714Z"/>
<line class="sc" x1="1141" y1="708" x2="1149" y2="706" stroke-width="2"/>
<line class="sc" x1="1160" y1="699.5" x2="1166" y2="713" stroke-width="1.8"/>
<line class="k" x1="1168.5" y1="698.2" x2="1149.2" y2="739"/>
<line class="k" x1="1165" y1="697" x2="1145.8" y2="737.9"/>
<line class="t" x1="1172" y1="703" x2="1161.1" y2="735.6"/>
<line class="k" x1="1156" y1="742.4" x2="1120.9" y2="819.5"/>
<line class="k" x1="1152.6" y1="742.4" x2="1118.6" y2="818.3"/>
<line class="k" x1="1149.2" y1="739" x2="1156" y2="742.4"/>
<path class="k" d="M1161.1 735.6 L1150.3 760.5 L1169.6 778.7"/>
<line class="k2" x1="1149.2" y1="767.3" x2="1168.5" y2="783.2"/>
<line class="k" x1="1150.3" y1="760.5" x2="1149.2" y2="767.3"/>
<line class="k" x1="1156" y1="760" x2="1133" y2="812"/>
<line class="k" x1="1133" y1="812" x2="1145" y2="822"/>
<path class="k2" d="M1112.9 733.3 L1148 727.7"/>
<path class="k" d="M1114 735.6 L1083.5 766.2"/>
<path class="k" d="M1112.9 735.6 L1127.7 766.2 L1118.6 787.7"/>
<path class="fk" d="M1122 742.4 L1136 740 L1139 749 L1133 760.5 L1126 756Z"/>
<line class="k" x1="1118" y1="738" x2="1145" y2="733.5"/>
<line class="t" x1="1135" y1="729" x2="1131" y2="761"/>
<line class="k2" x1="1085.7" y1="766.2" x2="1117.5" y2="786.6"/>
<line class="k2" x1="1088" y1="776.4" x2="1114" y2="793.4"/>
<line class="k" x1="1085.7" y1="766.2" x2="1088" y2="776.4"/>
<line class="k" x1="1092.5" y1="747" x2="1057.4" y2="801.3" stroke-dasharray="2 1"/>
<line class="k" x1="1099.3" y1="748" x2="1071" y2="812.7"/>
<line class="t" x1="1102" y1="746" x2="1074" y2="810"/>
<line class="k" x1="1108.4" y1="724.3" x2="1092.5" y2="747"/>
<line class="k" x1="1119.7" y1="716" x2="1099.3" y2="748"/>
<path class="k" d="M1074.4 812.7 L1088 811.5 L1101.6 813.8 L1099.3 824 L1083.5 824 L1074.4 812.7"/>
<line class="k" x1="1088" y1="811.5" x2="1085" y2="824"/>
<line class="k" x1="1108.4" y1="807" x2="1133.3" y2="834.2"/>
<line class="k" x1="1101.6" y1="813.8" x2="1122" y2="832"/>
<line class="k" x1="1057.4" y1="803.6" x2="1074.4" y2="812.7"/>
<path class="k2" d="M1018.6 908.9 C1024 890 1030 880 1038 868 C1052 846 1075 827 1100 825 C1112 824 1120 828 1128 834"/>
<path class="k" d="M1024 911 C1030 892 1036 882 1044 872 C1058 852 1080 836 1106 835 C1112 835 1116 836 1120 840"/>
<path class="k2" d="M1034 877 C1042 864 1052 853 1064 849 C1076 845 1090 846 1100 851.7 C1108 855 1114 860 1116 864"/>
<path class="k" d="M946.5 907 L976 864 L996 846"/>
<path class="k" d="M955 906 L982.3 868"/>
<path class="k" d="M962 906 L986 872"/>
<line class="sc" x1="962" y1="904" x2="967" y2="902.5" stroke-width="2"/>
<line class="sc" x1="965.3" y1="899.3" x2="970.3" y2="897.8" stroke-width="2"/>
<line class="sc" x1="968.6" y1="894.6" x2="973.6" y2="893.1" stroke-width="2"/>
<line class="sc" x1="971.9" y1="889.9" x2="976.9" y2="888.4" stroke-width="2"/>
<line class="sc" x1="975.2" y1="885.2" x2="980.2" y2="883.7" stroke-width="2"/>
<line class="sc" x1="978.5" y1="880.5" x2="983.5" y2="879" stroke-width="2"/>
<line class="sc" x1="981.8" y1="875.8" x2="986.8" y2="874.3" stroke-width="2"/>
<path class="k2" d="M941.6 915.5 L1012 899 L1016 896"/>
<path class="k2" d="M979 906.7 L982.5 902.2 L986 905.1"/>
<path class="k2" d="M990 904.2 L993.5 899.7 L997 902.6"/>
<path class="k2" d="M1001 901.6 L1004.5 897.1 L1008 900"/>
<path class="k2" d="M983.4 868.2 C996 862 1016 859 1034 861.6"/>
<path class="k" d="M978 866 C992 858 1010 854 1030 856"/>
<path class="k" d="M996.6 842.9 L1001 848 L1006 848"/>
<path class="k" d="M1003.2 844 L1012 855 L1018 862"/>
<path class="k" d="M1035 863.8 L1012 896.8"/>
<path class="k" d="M1040 864 L1017 899"/>
<path class="k" d="M1030.7 842.9 L1041 850"/>
<path class="k" d="M1025 845 L1033 838 L1039 842 L1031 850Z"/>
<path class="k2" d="M1027 844 L1034 839"/>
<path class="k" d="M1030 836 L1038 829 L1044 833 L1036 841Z"/>
<path class="k2" d="M1032 835 L1039 830"/>
<path class="k" d="M1036 827 L1044 820 L1050 824 L1042 832Z"/>
<path class="k2" d="M1038 826 L1045 821"/>
<path class="k" d="M957 921 L971.3 922.1 L1006.5 914.4 L1045 937.5 L1056 946.3"/>
<path class="k" d="M991 918.8 L1030.7 949.6"/>
<path class="k" d="M1012 899 L1020 905 L1045 922"/>
<path class="k" d="M1018.6 908.9 L1045 926 L1060 932"/>
<circle class="f" cx="1013.0" cy="930.5" r="1.35"/>
<circle class="f" cx="1017.6" cy="932.8" r="1.35"/>
<circle class="f" cx="1022.2" cy="935.1" r="1.35"/>
<circle class="f" cx="1026.8" cy="937.4" r="1.35"/>
<circle class="f" cx="1031.4" cy="939.7" r="1.35"/>
<circle class="f" cx="1036.0" cy="942.0" r="1.35"/>
<circle class="f" cx="1040.6" cy="944.3" r="1.35"/>
<circle class="f" cx="1014.9" cy="933.9" r="1.35"/>
<circle class="f" cx="1019.5" cy="936.2" r="1.35"/>
<circle class="f" cx="1024.1" cy="938.5" r="1.35"/>
<circle class="f" cx="1028.7" cy="940.8" r="1.35"/>
<circle class="f" cx="1033.3" cy="943.1" r="1.35"/>
<circle class="f" cx="1037.9" cy="945.4" r="1.35"/>
<circle class="f" cx="1016.8" cy="937.3" r="1.35"/>
<circle class="f" cx="1021.4" cy="939.6" r="1.35"/>
<circle class="f" cx="1026.0" cy="941.9" r="1.35"/>
<circle class="f" cx="1030.6" cy="944.2" r="1.35"/>
<circle class="f" cx="1035.2" cy="946.5" r="1.35"/>
<circle class="f" cx="1018.7" cy="940.7" r="1.35"/>
<circle class="f" cx="1023.3" cy="943.0" r="1.35"/>
<circle class="f" cx="1027.9" cy="945.3" r="1.35"/>
<circle class="f" cx="1020.6" cy="944.1" r="1.35"/>
<circle class="f" cx="1025.2" cy="946.4" r="1.35"/>
<ellipse class="k2" cx="1079.7" cy="911.1" rx="14.3" ry="14.3" transform="rotate(0 1079.7 911.1)"/>
<ellipse class="k" cx="1079.7" cy="911.1" rx="12.5" ry="12.5" transform="rotate(0 1079.7 911.1)" stroke-dasharray="2 1.2"/>
<ellipse class="k" cx="1084" cy="909.5" rx="8.5" ry="9.5" transform="rotate(0 1084 909.5)"/>
<path class="k2" d="M1080 909 L1088 909"/>
<path class="k2" d="M1084 904 L1084 915"/>
<path class="k" d="M1094.5 899 L1102 889"/>
<ellipse class="k2" cx="876.9" cy="923.4" rx="48.6" ry="51" transform="rotate(0 876.9 923.4)"/>
<ellipse class="k2" cx="881.7" cy="922.7" rx="43" ry="49.3" transform="rotate(0 881.7 922.7)"/>
<ellipse class="k" cx="882.3" cy="923" rx="38.3" ry="45" transform="rotate(0 882.3 923)"/>
<ellipse class="k2" cx="882.7" cy="924" rx="31.5" ry="37.8" transform="rotate(0 882.7 924)"/>
<ellipse class="t" cx="882.5" cy="923.5" rx="35" ry="41.5" transform="rotate(0 882.5 923.5)"/>
<line class="sc" x1="899" y1="968.8" x2="901.2" y2="966.6" stroke-width="1.9"/>
<line class="sc" x1="888" y1="973" x2="891.5" y2="970.7" stroke-width="1.9"/>
<line class="sc" x1="876.5" y1="974.4" x2="881.3" y2="972" stroke-width="1.9"/>
<line class="sc" x1="864.9" y1="972.8" x2="871.1" y2="970.5" stroke-width="1.9"/>
<line class="sc" x1="854" y1="968.4" x2="861.5" y2="966.2" stroke-width="1.9"/>
<line class="sc" x1="844.5" y1="961.4" x2="853" y2="959.4" stroke-width="1.9"/>
<line class="sc" x1="836.8" y1="952.2" x2="846.2" y2="950.6" stroke-width="1.9"/>
<line class="sc" x1="831.4" y1="941.4" x2="841.5" y2="940.1" stroke-width="1.9"/>
<line class="sc" x1="828.7" y1="929.5" x2="839" y2="928.6" stroke-width="1.9"/>
<line class="sc" x1="828.7" y1="917.3" x2="839" y2="916.8" stroke-width="1.9"/>
<line class="sc" x1="831.4" y1="905.4" x2="841.5" y2="905.3" stroke-width="1.9"/>
<line class="sc" x1="836.8" y1="894.6" x2="846.2" y2="894.8" stroke-width="1.9"/>
<line class="sc" x1="844.5" y1="885.4" x2="853" y2="886" stroke-width="1.9"/>
<line class="sc" x1="854" y1="878.4" x2="861.5" y2="879.2" stroke-width="1.9"/>
<line class="sc" x1="864.9" y1="874" x2="871.1" y2="874.9" stroke-width="1.9"/>
<line class="sc" x1="876.5" y1="872.4" x2="881.3" y2="873.4" stroke-width="1.9"/>
<line class="sc" x1="888" y1="873.8" x2="891.5" y2="874.7" stroke-width="1.9"/>
<line class="sc" x1="899" y1="878" x2="901.2" y2="878.8" stroke-width="1.9"/>
<line class="sc" x1="920" y1="930.8" x2="913.7" y2="930.6" stroke-width="3"/>
<line class="sc" x1="915.5" y1="945.5" x2="910" y2="942.9" stroke-width="3"/>
<line class="sc" x1="906.9" y1="957.5" x2="902.9" y2="953" stroke-width="3"/>
<line class="sc" x1="895.4" y1="965.3" x2="893.5" y2="959.5" stroke-width="3"/>
<line class="sc" x1="882.3" y1="968" x2="882.7" y2="961.8" stroke-width="3"/>
<line class="sc" x1="869.2" y1="965.3" x2="871.9" y2="959.5" stroke-width="3"/>
<line class="sc" x1="857.7" y1="957.5" x2="862.5" y2="953" stroke-width="3"/>
<line class="sc" x1="849.1" y1="945.5" x2="855.4" y2="942.9" stroke-width="3"/>
<line class="sc" x1="844.6" y1="930.8" x2="851.7" y2="930.6" stroke-width="3"/>
<line class="sc" x1="844.6" y1="915.2" x2="851.7" y2="917.4" stroke-width="3"/>
<line class="sc" x1="849.1" y1="900.5" x2="855.4" y2="905.1" stroke-width="3"/>
<line class="sc" x1="857.7" y1="888.5" x2="862.5" y2="895" stroke-width="3"/>
<line class="sc" x1="869.2" y1="880.7" x2="871.9" y2="888.5" stroke-width="3"/>
<line class="sc" x1="882.3" y1="878" x2="882.7" y2="886.2" stroke-width="3"/>
<line class="sc" x1="895.4" y1="880.7" x2="893.5" y2="888.5" stroke-width="3"/>
<line class="sc" x1="906.9" y1="888.5" x2="902.9" y2="895" stroke-width="3"/>
<line class="sc" x1="915.5" y1="900.5" x2="910" y2="905.1" stroke-width="3"/>
<line class="sc" x1="920" y1="915.2" x2="913.7" y2="917.4" stroke-width="3"/>
<line class="sc" x1="890.7" y1="921.9" x2="914.2" y2="925.5" stroke-width="1.9"/>
<line class="sc" x1="890.3" y1="924.6" x2="913.6" y2="931.5" stroke-width="1.9"/>
<line class="sc" x1="889.1" y1="927.2" x2="909.3" y2="944.2" stroke-width="1.9"/>
<line class="sc" x1="887.3" y1="929.3" x2="906.3" y2="949" stroke-width="1.9"/>
<line class="sc" x1="884.8" y1="931.1" x2="897.3" y2="957.5" stroke-width="1.9"/>
<line class="sc" x1="882" y1="932.1" x2="892.7" y2="959.8" stroke-width="1.9"/>
<line class="sc" x1="878.8" y1="932.5" x2="881.4" y2="961.8" stroke-width="1.9"/>
<line class="sc" x1="875.8" y1="932.2" x2="876.4" y2="961" stroke-width="1.9"/>
<line class="sc" x1="872.8" y1="931.1" x2="865.9" y2="956" stroke-width="1.9"/>
<line class="sc" x1="870.3" y1="929.5" x2="861.8" y2="952.3" stroke-width="1.9"/>
<line class="sc" x1="868.4" y1="927.3" x2="854.8" y2="941.6" stroke-width="1.9"/>
<line class="sc" x1="867.2" y1="924.9" x2="852.8" y2="936" stroke-width="1.9"/>
<line class="sc" x1="866.7" y1="922.1" x2="851.2" y2="922.5" stroke-width="1.9"/>
<line class="sc" x1="867.1" y1="919.4" x2="851.8" y2="916.5" stroke-width="1.9"/>
<line class="sc" x1="868.3" y1="916.8" x2="856.1" y2="903.8" stroke-width="1.9"/>
<line class="sc" x1="870.1" y1="914.7" x2="859.1" y2="899" stroke-width="1.9"/>
<line class="sc" x1="872.6" y1="912.9" x2="868.1" y2="890.5" stroke-width="1.9"/>
<line class="sc" x1="875.4" y1="911.9" x2="872.7" y2="888.2" stroke-width="1.9"/>
<line class="sc" x1="878.6" y1="911.5" x2="884" y2="886.2" stroke-width="1.9"/>
<line class="sc" x1="881.6" y1="911.8" x2="889" y2="887" stroke-width="1.9"/>
<line class="sc" x1="884.6" y1="912.9" x2="899.5" y2="892" stroke-width="1.9"/>
<line class="sc" x1="887.1" y1="914.5" x2="903.6" y2="895.7" stroke-width="1.9"/>
<line class="sc" x1="889" y1="916.7" x2="910.6" y2="906.4" stroke-width="1.9"/>
<line class="sc" x1="890.2" y1="919.1" x2="912.6" y2="912" stroke-width="1.9"/>
<ellipse class="k2" cx="878.7" cy="922" rx="12" ry="10.5" transform="rotate(0 878.7 922)"/>
<ellipse class="k2" cx="878.7" cy="922" rx="5.2" ry="8" transform="rotate(0 878.7 922)"/>
<circle class="f" cx="862.0" cy="947.0" r="3.2"/>
<ellipse class="k2" cx="1195.6" cy="932.8" rx="48.9" ry="50.8" transform="rotate(0 1195.6 932.8)"/>
<ellipse class="k2" cx="1203" cy="931.5" rx="39.5" ry="47.5" transform="rotate(0 1203 931.5)"/>
<ellipse class="k2" cx="1201" cy="931" rx="35.5" ry="42" transform="rotate(0 1201 931)"/>
<ellipse class="k" cx="1200.5" cy="930" rx="34" ry="40.3" transform="rotate(0 1200.5 930)"/>
<ellipse class="k2" cx="1199" cy="931.9" rx="30.4" ry="34.8" transform="rotate(0 1199 931.9)"/>
<line class="sc" x1="1210.7" y1="981.1" x2="1213" y2="978.9" stroke-width="1.9"/>
<line class="sc" x1="1209" y1="980.1" x2="1211.6" y2="977.8" stroke-width="1.9"/>
<line class="sc" x1="1201.8" y1="983.2" x2="1204.9" y2="980.9" stroke-width="1.9"/>
<line class="sc" x1="1200.8" y1="981.3" x2="1204.3" y2="979" stroke-width="1.9"/>
<line class="sc" x1="1192.7" y1="983.5" x2="1196.7" y2="981.2" stroke-width="1.9"/>
<line class="sc" x1="1192.5" y1="980.7" x2="1197" y2="978.4" stroke-width="1.9"/>
<line class="sc" x1="1183.7" y1="982.1" x2="1188.5" y2="979.8" stroke-width="1.9"/>
<line class="sc" x1="1184.5" y1="978.5" x2="1189.8" y2="976.3" stroke-width="1.9"/>
<line class="sc" x1="1175" y1="978.9" x2="1180.7" y2="976.7" stroke-width="1.9"/>
<line class="sc" x1="1177.1" y1="974.6" x2="1183.1" y2="972.5" stroke-width="1.9"/>
<line class="sc" x1="1167.2" y1="974.1" x2="1173.6" y2="972.1" stroke-width="1.9"/>
<line class="sc" x1="1170.3" y1="969.3" x2="1177.1" y2="967.4" stroke-width="1.9"/>
<line class="sc" x1="1160.3" y1="967.9" x2="1167.4" y2="966.1" stroke-width="1.9"/>
<line class="sc" x1="1164.6" y1="962.7" x2="1172" y2="961" stroke-width="1.9"/>
<line class="sc" x1="1154.6" y1="960.5" x2="1162.2" y2="958.9" stroke-width="1.9"/>
<line class="sc" x1="1160.1" y1="955" x2="1168" y2="953.5" stroke-width="1.9"/>
<line class="sc" x1="1150.4" y1="952.1" x2="1158.4" y2="950.8" stroke-width="1.9"/>
<line class="sc" x1="1157" y1="946.5" x2="1165.2" y2="945.3" stroke-width="1.9"/>
<line class="sc" x1="1147.7" y1="943" x2="1156" y2="942" stroke-width="1.9"/>
<line class="sc" x1="1155.4" y1="937.5" x2="1163.7" y2="936.6" stroke-width="1.9"/>
<line class="sc" x1="1146.7" y1="933.6" x2="1155.1" y2="932.9" stroke-width="1.9"/>
<line class="sc" x1="1155.2" y1="928.3" x2="1163.6" y2="927.8" stroke-width="1.9"/>
<line class="sc" x1="1147.4" y1="924.1" x2="1155.8" y2="923.7" stroke-width="1.9"/>
<line class="sc" x1="1156.6" y1="919.3" x2="1164.9" y2="919" stroke-width="1.9"/>
<line class="sc" x1="1149.8" y1="915" x2="1157.9" y2="914.9" stroke-width="1.9"/>
<line class="sc" x1="1159.5" y1="910.7" x2="1167.5" y2="910.7" stroke-width="1.9"/>
<line class="sc" x1="1153.8" y1="906.4" x2="1161.5" y2="906.6" stroke-width="1.9"/>
<line class="sc" x1="1163.8" y1="902.8" x2="1171.3" y2="903.2" stroke-width="1.9"/>
<line class="sc" x1="1159.3" y1="898.8" x2="1166.5" y2="899.3" stroke-width="1.9"/>
<line class="sc" x1="1169.4" y1="896" x2="1176.2" y2="896.6" stroke-width="1.9"/>
<line class="sc" x1="1166" y1="892.4" x2="1172.5" y2="893" stroke-width="1.9"/>
<line class="sc" x1="1175.9" y1="890.4" x2="1182.1" y2="891.2" stroke-width="1.9"/>
<line class="sc" x1="1173.7" y1="887.4" x2="1179.5" y2="888.2" stroke-width="1.9"/>
<line class="sc" x1="1183.3" y1="886.3" x2="1188.7" y2="887.2" stroke-width="1.9"/>
<line class="sc" x1="1182.2" y1="883.9" x2="1187.2" y2="884.9" stroke-width="1.9"/>
<line class="sc" x1="1191.2" y1="883.8" x2="1195.8" y2="884.8" stroke-width="1.9"/>
<line class="sc" x1="1191.2" y1="882.2" x2="1195.3" y2="883.2" stroke-width="1.9"/>
<line class="sc" x1="1199.5" y1="883" x2="1203.1" y2="884" stroke-width="1.9"/>
<line class="sc" x1="1200.3" y1="882.2" x2="1203.6" y2="883.2" stroke-width="1.9"/>
<line class="sc" x1="1207.7" y1="883.9" x2="1210.5" y2="884.9" stroke-width="1.9"/>
<line class="sc" x1="1209.3" y1="884" x2="1211.7" y2="885" stroke-width="1.9"/>
<line class="sc" x1="1215.6" y1="886.5" x2="1217.6" y2="887.3" stroke-width="1.9"/>
<line class="sc" x1="1217.8" y1="887.5" x2="1219.4" y2="888.4" stroke-width="1.9"/>
<line class="sc" x1="1223" y1="890.6" x2="1224.1" y2="891.4" stroke-width="1.9"/>
<path class="k" d="M1195 882.5 C1170 886 1155 905 1154 932 C1154 958 1168 977 1195 983"/>
<ellipse class="k" cx="1201.5" cy="931" rx="42.5" ry="48.5" transform="rotate(0 1201.5 931)"/>
<line class="k" x1="1196.4" y1="918.2" x2="1193.7" y2="897.6"/>
<line class="k" x1="1198.8" y1="918.2" x2="1204.3" y2="897.6"/>
<line class="k" x1="1207" y1="923.5" x2="1223.9" y2="911.9"/>
<line class="k" x1="1209.1" y1="931.5" x2="1229.4" y2="933.7"/>
<line class="k" x1="1205.9" y1="939.6" x2="1221.6" y2="955.2"/>
<line class="k" x1="1205" y1="940.5" x2="1217.7" y2="959.3"/>
<line class="k" x1="1195.7" y1="943.3" x2="1195.3" y2="966.4"/>
<line class="k" x1="1194.3" y1="942.9" x2="1189.1" y2="964.8"/>
<line class="k" x1="1188.8" y1="938.9" x2="1175.7" y2="954.3"/>
<line class="k" x1="1186.1" y1="930.8" x2="1168.6" y2="931.9"/>
<line class="k" x1="1188.5" y1="923.1" x2="1174.4" y2="911.4"/>
<line class="k" x1="1189.1" y1="922.3" x2="1177.1" y2="907.7"/>
<ellipse class="k2" cx="1197.6" cy="930.8" rx="10.6" ry="11.7" transform="rotate(0 1197.6 930.8)"/>
<ellipse class="k2" cx="1196.5" cy="931.5" rx="7" ry="9.3" transform="rotate(0 1196.5 931.5)"/>
<ellipse class="k2" cx="1212.6" cy="908.8" rx="3" ry="3" transform="rotate(0 1212.6 908.8)"/>
<polygon class="k" points="1272,930 1280,929.5 1285,935 1284,943 1277,947 1270,944 1268,936"/>
<circle class="f" cx="1277" cy="938" r="1.3"/>
<line class="sc" x1="1316.5" y1="924.5" x2="1305" y2="928.5" stroke-width="3.0"/>
<line class="sc" x1="1316.5" y1="924.5" x2="1312.1" y2="926" stroke-width="4.6"/>
<ellipse class="k2" cx="1381.6" cy="945.4" rx="36" ry="40.5" transform="rotate(0 1381.6 945.4)"/>
<ellipse class="k" cx="1381.1" cy="945.4" rx="33.5" ry="38" transform="rotate(0 1381.1 945.4)"/>
<ellipse class="k" cx="1379.5" cy="945.7" rx="10.1" ry="11.4" transform="rotate(0 1379.5 945.7)"/>
<line class="sc" x1="1377.7" y1="934.1" x2="1375.7" y2="907.5" stroke-width="2"/>
<line class="x" x1="1379.3" y1="933.9" x2="1382.5" y2="906.9" stroke="#444" stroke-width="0.8"/>
<line class="sc" x1="1382.7" y1="934.5" x2="1392.1" y2="908.8" stroke-width="2"/>
<line class="sc" x1="1387.3" y1="937.8" x2="1406.9" y2="919.6" stroke-width="2"/>
<line class="x" x1="1388.3" y1="939.3" x2="1410.9" y2="925.8" stroke="#444" stroke-width="0.8"/>
<line class="sc" x1="1389.5" y1="942.1" x2="1413.9" y2="933.5" stroke-width="2"/>
<line class="sc" x1="1390" y1="946.7" x2="1415.5" y2="948.8" stroke-width="2"/>
<line class="x" x1="1389.7" y1="948.6" x2="1414.2" y2="956.3" stroke="#444" stroke-width="0.8"/>
<line class="sc" x1="1388.8" y1="951.2" x2="1411.6" y2="963.5" stroke-width="2"/>
<line class="sc" x1="1386" y1="955" x2="1402.5" y2="975.7" stroke-width="2"/>
<line class="x" x1="1384.6" y1="956" x2="1396.8" y2="979.8" stroke="#444" stroke-width="0.8"/>
<line class="sc" x1="1379.9" y1="957.5" x2="1382.8" y2="983.9" stroke-width="2"/>
<line class="sc" x1="1377.7" y1="957.3" x2="1375.7" y2="983.3" stroke-width="2"/>
<line class="x" x1="1376.1" y1="956.8" x2="1369.2" y2="981.2" stroke="#444" stroke-width="0.8"/>
<line class="sc" x1="1373" y1="955" x2="1360.7" y2="975.7" stroke-width="2"/>
<line class="sc" x1="1369.8" y1="950.1" x2="1350.1" y2="959.8" stroke-width="2"/>
<line class="x" x1="1369.3" y1="948.3" x2="1348.2" y2="952.4" stroke="#444" stroke-width="0.8"/>
<line class="sc" x1="1369" y1="945.7" x2="1347.6" y2="945.4" stroke-width="2"/>
<line class="sc" x1="1370" y1="940.7" x2="1350.8" y2="929.1" stroke-width="2"/>
<line class="x" x1="1370.8" y1="939.1" x2="1354.3" y2="922.5" stroke="#444" stroke-width="0.8"/>
<line class="sc" x1="1346.1" y1="935.4" x2="1346.1" y2="955.4" stroke-width="2.2"/>
<path class="k2" d="M209 804.6 L220.2 815.8 L233.6 828.6 L220.2 842.5 L206.9 830.7 L195.1 817.4 L209 804.6"/>
<path class="k2" d="M218.1 813.1 L203.1 828.1"/>
<path class="k2" d="M215.4 811 L201 825.9"/>
<path class="fk" d="M215.41297620318002 810.9806850923061 L218.08078113328352 813.1149290363888 L204.20819549674528 828.5881976309893 L201.00682958062106 825.9203927008857 Z"/>
<path class="k" d="M220.7 815.8 L206.3 830.2"/>
<path class="k" d="M207.9 806.2 L197.8 816.3"/>
<path class="k2" d="M232 829.1 L221.3 840.9"/>
<path class="k2" d="M191.6 927 C190.5 929 190.5 931 190.9 931.3 C192.5 934 194.5 935.5 196.7 935.4 L201.1 934.3 L218.7 918.1 L229 909.3 L230.5 902 L227.5 899.1 L221.7 895.4 L218.7 896.1 L212.9 905 L199.7 918.1 Z"/>
<line class="k" x1="196.5" y1="922" x2="201" y2="934"/>
<line class="k" x1="218.7" y1="896.1" x2="216" y2="910"/>
<line class="k" x1="224" y1="897.5" x2="221.5" y2="912"/>
<line class="k" x1="229" y1="901" x2="226.5" y2="913"/>
<line class="k" x1="212.9" y1="905" x2="216" y2="910"/>
<line class="t" x1="205" y1="913" x2="211" y2="920"/>
<path class="k" d="M213.6 979 C213.5 977.5 214.5 977 216 976.8 L228.5 975.5 L229 980.5 L216 982.5 C214.5 982.5 213.6 981 213.6 979 Z"/>
<path class="k" d="M231.9 974.5 C243 971 252 964 254.5 951 L259.5 951.5 C258 966 248 975 233 980 Z"/>
<path class="k" d="M255.4 928.4 L259.5 928 L259.8 945.5 L255.8 946 L255.4 928.4"/>
<path class="k2" d="M325.8 996.5 L316 999 C311 998 306 999 304.5 1002 C304 1004.5 306 1006 309 1005 L318 1002 M318 1002 L310 1008 C306 1010 305 1012 307 1013 C310 1013.5 314 1011 325.8 1003"/>
<line class="sc" x1="314" y1="999.5" x2="322" y2="1004" stroke-width="2"/>
<path class="k" d="M325.8 996 L343.5 992.5 L345 997.5 L326.5 1003 Z"/>
<path class="k" d="M346 992.5 C358 989 368 981 371 966.5 L375.5 967 C373 983 362 993.5 347.5 998 Z"/>
<path class="k" d="M369 939 L373 938.7 L373.5 960.5 L369.5 960.7 L369 939"/>
<path class="k" d="M369 939 C369 933 372 930 376 928"/>
<path class="k" d="M373 938.7 C374 934 376.5 931.5 380 930"/>
<path class="k2" d="M376 928 L388.5 914 L394.7 918.5 L381 932"/>
<line class="k" x1="380" y1="933.5" x2="394.7" y2="925"/>
<line class="k" x1="385" y1="920" x2="391" y2="925"/>
<line class="sc" x1="522" y1="781" x2="509.6" y2="774.2" stroke-width="4.2"/>
<line class="sc" x1="522" y1="781" x2="517" y2="778.3" stroke-width="6"/>
<line class="sc" x1="499.2" y1="818.2" x2="486.8" y2="809.4" stroke-width="4.2"/>
<line class="sc" x1="499.2" y1="818.2" x2="494.2" y2="814.7" stroke-width="6"/>
<line class="sc" x1="457.8" y1="872" x2="446.6" y2="859.4" stroke-width="4.2"/>
<line class="sc" x1="457.8" y1="872" x2="453.3" y2="867" stroke-width="6"/>
<line class="sc" x1="476" y1="932.2" x2="464.8" y2="921" stroke-width="4.2"/>
<line class="sc" x1="476" y1="932.2" x2="471.5" y2="927.7" stroke-width="6"/>
<line class="sc" x1="455" y1="971.4" x2="442.4" y2="961.6" stroke-width="4.2"/>
<line class="sc" x1="455" y1="971.4" x2="450" y2="967.5" stroke-width="6"/>
<line class="sc" x1="645.4" y1="926.6" x2="634.2" y2="915.4" stroke-width="4.2"/>
<line class="sc" x1="645.4" y1="926.6" x2="640.9" y2="922.1" stroke-width="6"/>
</svg>
<div id="foot"></div>
<div id="t1" class="tt">АВД-П165.</div><div id="t2" class="tt">Схема 1-2 (Схема-состав корпус)</div>
</body></html>
